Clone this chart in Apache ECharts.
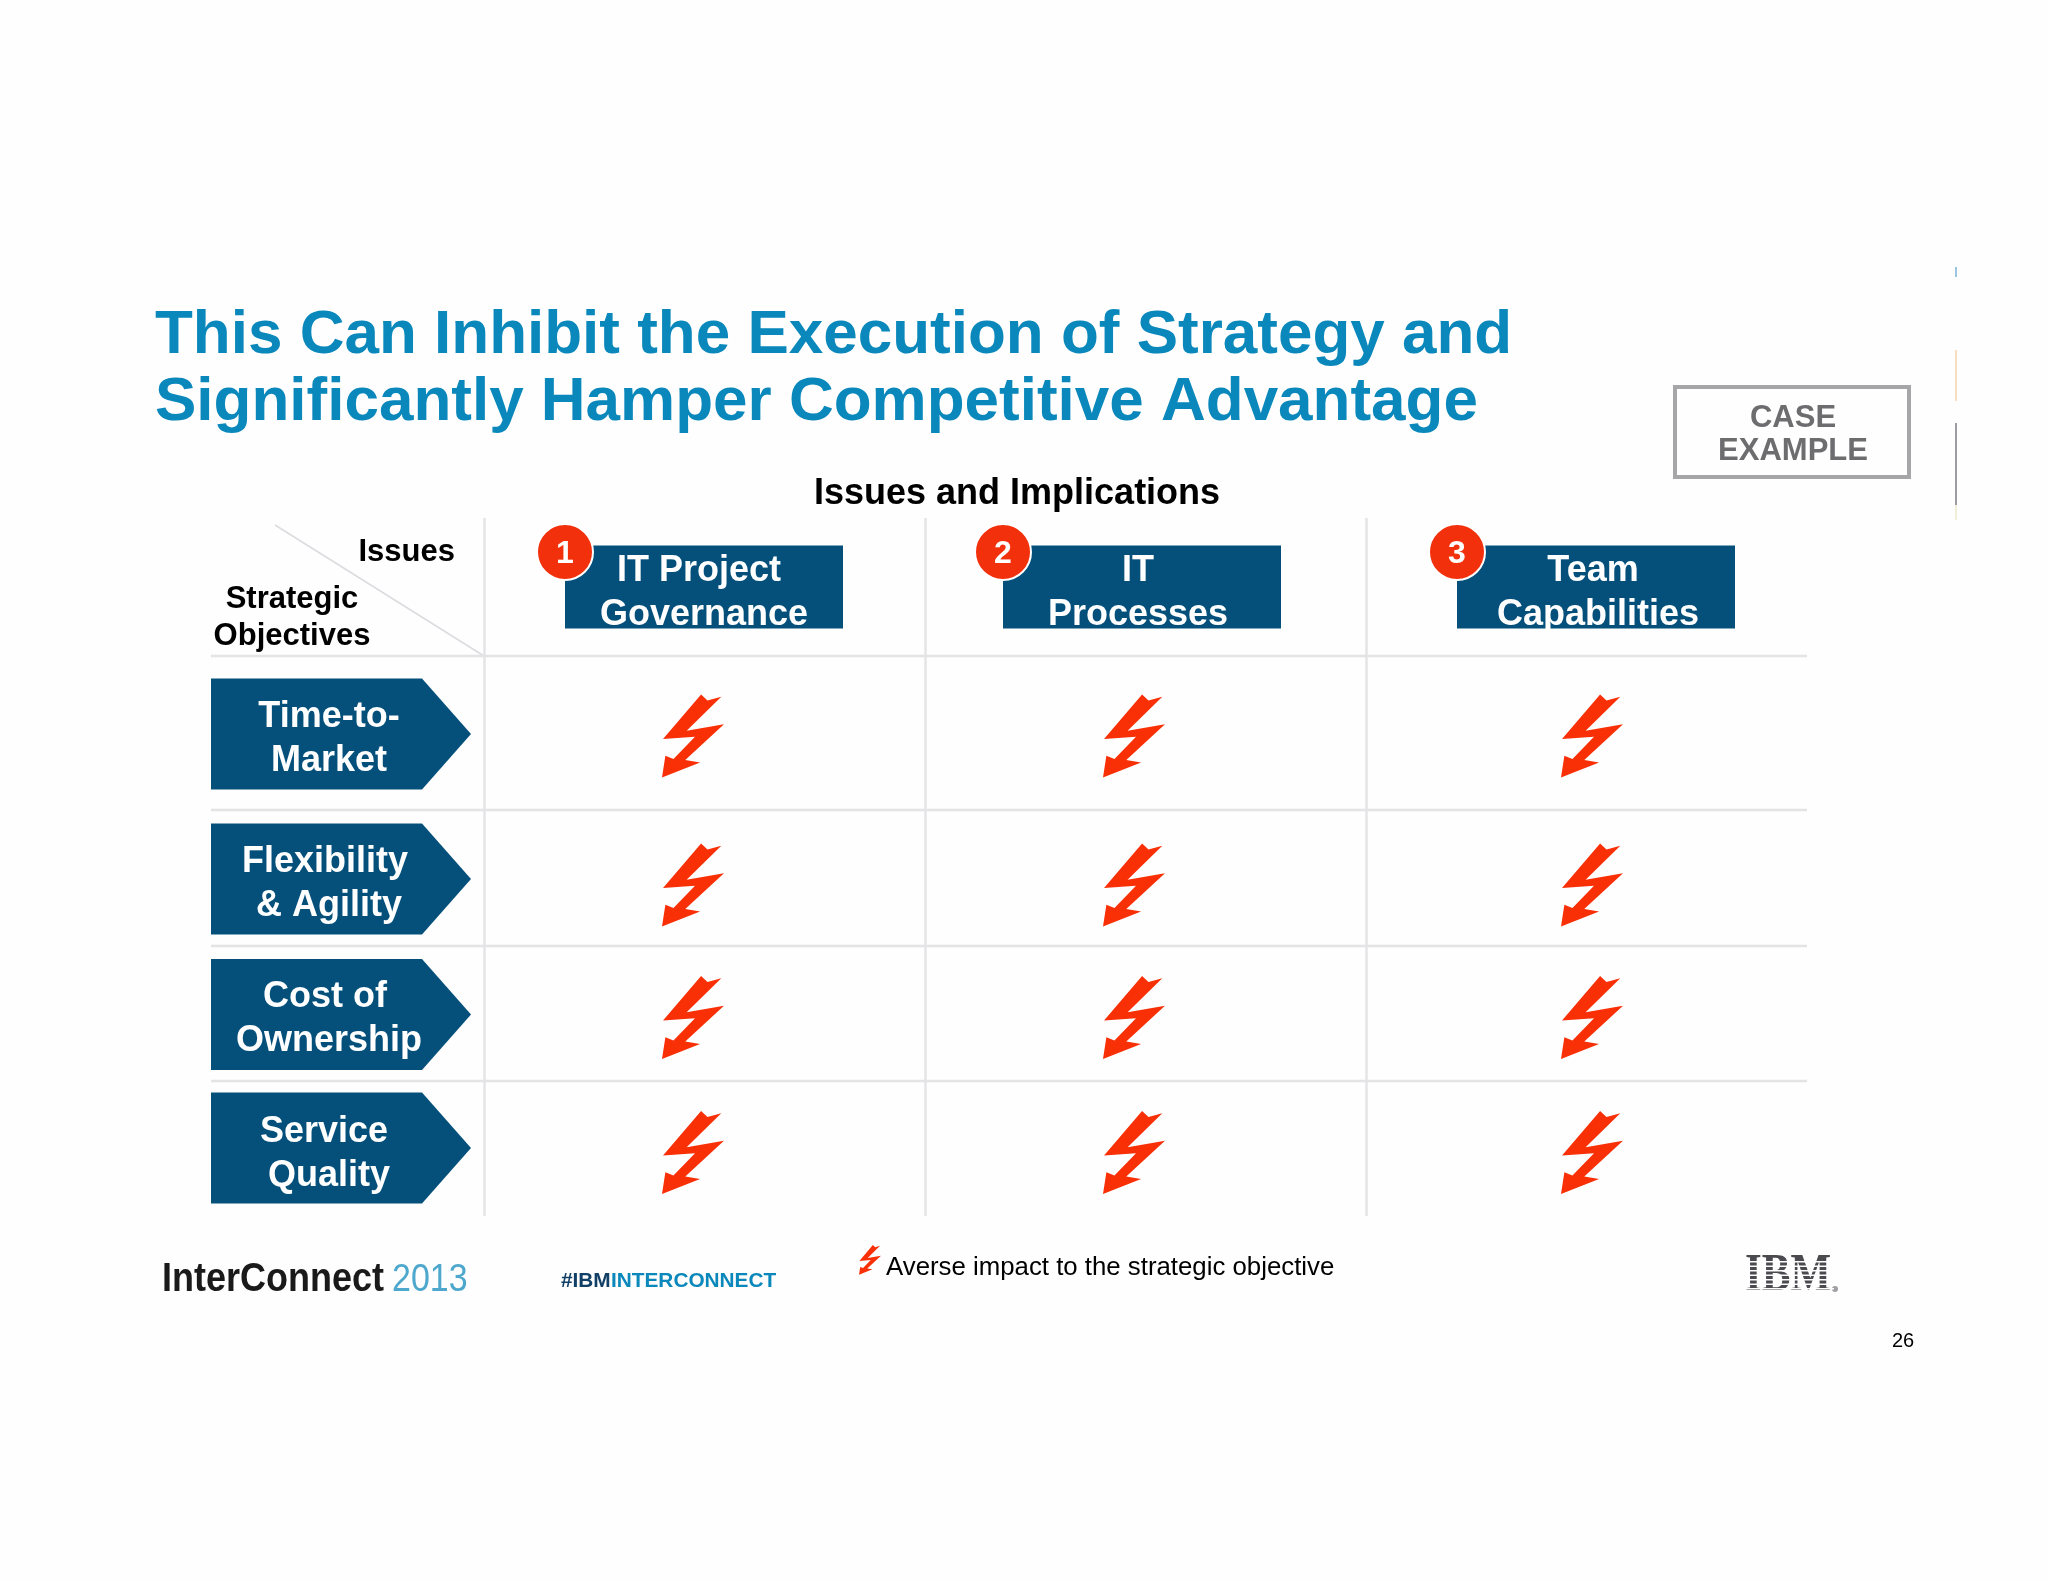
<!DOCTYPE html>
<html>
<head>
<meta charset="utf-8">
<title>Issues and Implications</title>
<style>
  html, body { margin: 0; padding: 0; background: #fefefe; }
  #chart { width: 2048px; height: 1582px; }
</style>
<script src="https://cdn.jsdelivr.net/npm/echarts@6/dist/echarts.min.js"></script>
</head>
<body>
<div id="chart"></div>
<script>
const issues = ['IT Project\nGovernance', 'IT\nProcesses', 'Team\nCapabilities'];
const objectives = ['Time-to-\nMarket', 'Flexibility\n& Agility', 'Cost of\nOwnership', 'Service\nQuality'];
// 1 = averse impact, one row per objective, one column per issue
const impacts = [
    [1, 1, 1],
    [1, 1, 1],
    [1, 1, 1],
    [1, 1, 1]
];
const legendName = 'Averse impact to the strategic objective';

// row edges on the y axis, the slide's rows are not all the same height
const rowEdges = [138, 292, 428, 563, 698];
const rowMid = i => (rowEdges[i] + rowEdges[i + 1]) / 2;
const headerMid = rowEdges[0] / 2;

const SANS = '"Liberation Sans", Arial, sans-serif';
const BLUE = '#04507b';
const RED = '#f92f06';
const RULE = '#e4e4e6';
const BOLT_OUTLINE = 'M183 44L202 62L243 51L140 152L251 133L136 240L180 247L67 292L77 227L101 237L165 170L70 177Z';
const BOLT = 'path://' + BOLT_OUTLINE;
// the legend bolt sits above its text, the empty tail pushes it up inside the icon box
const LEGEND_BOLT = 'path://' + BOLT_OUTLINE + 'M159 431L159 431Z';

// marks and text sit a little off the cell centres on the slide
const boltShiftX = [-12, -12, 5];
const boltShiftY = [3, 7, 4, 4];
const headerShiftX = [-1, -4, 9];
const headerLineShift = [[-5, 0], [-4, -4], [-3, 2]];
const chevronShiftY = [1, 1, 1, -0.5];
const chevronLineShift = [[0, 0], [-4, 0], [-4, 0], [-5, 0]];

const impactData = [];
impacts.forEach((row, r) => {
    row.forEach((v, c) => {
        if (v) {
            impactData.push({
                value: [c, rowMid(r)],
                symbolOffset: [boltShiftX[c], boltShiftY[r]]
            });
        }
    });
});

function label(text, x, y, size) {
    return {
        type: 'text',
        z2: 5,
        style: {
            text: text, x: x, y: y, fill: '#fff',
            fontFamily: SANS, fontWeight: 'bold', fontSize: size,
            textAlign: 'center', textVerticalAlign: 'middle'
        }
    };
}

// two lines of white text, each with its own sideways nudge
function twoLines(text, x, y, shift) {
    return text.split('\n').map((line, i) => label(line, x + shift[i], y + (i ? 22 : -22), 36));
}

function renderRule(params, api) {
    const y = api.coord([0, api.value(1)])[1];
    return {
        type: 'line',
        shape: { x1: 211, y1: y, x2: 1807, y2: y },
        style: { stroke: RULE, lineWidth: 2.5 }
    };
}

function renderChevron(params, api) {
    const i = params.dataIndex;
    const mid = api.coord([0, api.value(1)])[1];
    const y = mid + chevronShiftY[i];
    return {
        type: 'group',
        children: [
            {
                type: 'polygon',
                shape: { points: [[211, y - 55.5], [422, y - 55.5], [471, y], [422, y + 55.5], [211, y + 55.5]] },
                style: { fill: BLUE }
            }
        ].concat(twoLines(objectives[i], 329, mid + 6, chevronLineShift[i]))
    };
}

function renderHeader(params, api) {
    const i = params.dataIndex;
    const pt = api.coord([api.value(0), api.value(1)]);
    const cx = pt[0] + headerShiftX[i];
    const cy = pt[1];
    const left = cx - 139;
    return {
        type: 'group',
        children: [
            { type: 'rect', shape: { x: left, y: cy - 41.5, width: 278, height: 83 }, style: { fill: BLUE } }
        ].concat(twoLines(issues[i], cx, cy + 6, headerLineShift[i]), [
            {
                type: 'circle',
                z2: 6,
                shape: { cx: left, cy: cy - 35, r: 28 },
                style: { fill: '#f2300c', stroke: '#fff', lineWidth: 2 }
            },
            Object.assign(label(String(i + 1), left, cy - 33, 32), { z2: 7 })
        ])
    };
}

function plainText(text, x, y, size, color, weight, align) {
    return {
        type: 'text',
        style: {
            text: text, x: x, y: y, fill: color,
            fontFamily: SANS, fontWeight: weight || 'normal', fontSize: size,
            textAlign: align || 'left', textVerticalAlign: 'middle'
        }
    };
}

// footer logo words are narrower and taller than the plain font
function tallText(text, x, y, size, color, weight) {
    return {
        type: 'text',
        scaleY: 1.12,
        originX: x,
        originY: y,
        style: {
            text: text, x: x, y: y, fill: color,
            fontFamily: SANS, fontWeight: weight, fontSize: size,
            textAlign: 'left', textVerticalAlign: 'middle'
        }
    };
}

const chart = echarts.init(document.getElementById('chart'));
chart.setOption({
    animation: false,
    backgroundColor: '#fefefe',
    title: [
        {
            text: 'This Can Inhibit the Execution of Strategy and\nSignificantly Hamper Competitive Advantage',
            left: 150, top: 297,
            textStyle: { color: '#0a88bb', fontFamily: SANS, fontWeight: 'bold', fontSize: 62, lineHeight: 67 }
        },
        {
            text: 'Issues and Implications',
            left: 809, top: 471,
            textStyle: { color: '#000', fontFamily: SANS, fontWeight: 'bold', fontSize: 36, lineHeight: 36 }
        }
    ],
    legend: {
        left: 854, top: 1240,
        itemWidth: 22, itemHeight: 46.8, itemGap: 9,
        data: [{ name: legendName, icon: LEGEND_BOLT, itemStyle: { color: RED } }],
        textStyle: { color: '#000', fontFamily: SANS, fontSize: 25.8 }
    },
    grid: { left: 484.5, top: 518, width: 1323, height: 698 },
    xAxis: {
        type: 'category',
        data: issues,
        position: 'top',
        axisLine: { show: false },
        axisTick: { show: false },
        axisLabel: { show: false },
        splitLine: { show: true, showMaxLine: false, lineStyle: { color: RULE, width: 2.5 } }
    },
    yAxis: {
        type: 'value',
        inverse: true,
        min: 0,
        max: 698,
        axisLine: { show: false },
        axisTick: { show: false },
        axisLabel: { show: false },
        splitLine: { show: false }
    },
    series: [
        {
            name: 'rules',
            type: 'custom',
            renderItem: renderRule,
            encode: { x: 0, y: 1 },
            data: rowEdges.slice(0, 4).map(e => [0, e])
        },
        {
            name: 'objectives',
            type: 'custom',
            renderItem: renderChevron,
            encode: { x: 0, y: 1 },
            data: objectives.map((o, i) => [0, rowMid(i)])
        },
        {
            name: 'issues',
            type: 'custom',
            renderItem: renderHeader,
            encode: { x: 0, y: 1 },
            data: issues.map((o, i) => [i, headerMid])
        },
        {
            name: legendName,
            type: 'scatter',
            symbol: BOLT,
            symbolSize: [62, 83],
            itemStyle: { color: RED, opacity: 1 },
            data: impactData
        }
    ],
    graphic: [
        // corner cell
        { type: 'line', shape: { x1: 275, y1: 525, x2: 484, y2: 656 }, style: { stroke: '#dcdce0', lineWidth: 1.5 } },
        plainText('Issues', 455, 552, 31, '#000', 'bold', 'right'),
        plainText('Strategic', 292, 599, 31, '#000', 'bold', 'center'),
        plainText('Objectives', 292, 636, 31, '#000', 'bold', 'center'),
        // case example stamp
        { type: 'rect', shape: { x: 1675, y: 387, width: 234, height: 90 }, style: { fill: 'none', stroke: '#a6a6a9', lineWidth: 4 } },
        plainText('CASE', 1793, 418, 31, '#6d6d70', 'bold', 'center'),
        plainText('EXAMPLE', 1793, 451, 31, '#6d6d70', 'bold', 'center'),
        // sliver of the next slide at the right edge
        { type: 'line', shape: { x1: 1956, y1: 267, x2: 1956, y2: 277 }, style: { stroke: '#3a8fc0', lineWidth: 1 } },
        { type: 'line', shape: { x1: 1956, y1: 350, x2: 1956, y2: 401 }, style: { stroke: '#f0c080', lineWidth: 1 } },
        { type: 'line', shape: { x1: 1956, y1: 423, x2: 1956, y2: 505 }, style: { stroke: '#3a3f4a', lineWidth: 1 } },
        { type: 'line', shape: { x1: 1956, y1: 505, x2: 1956, y2: 520 }, style: { stroke: '#e5dfb0', lineWidth: 1 } },
        // footer
        tallText('InterConnect', 162, 1280, 36, '#1a1a1a', 'bold'),
        tallText('2013', 392, 1280, 34, '#4ea7cc', 'normal'),
        plainText('#IBM', 561, 1281, 20.8, '#123f66', 'bold'),
        plainText('INTERCONNECT', 611, 1281, 20.8, '#0a88bb', 'bold'),
        {
            type: 'text',
            scaleY: 1.24,
            originX: 1745,
            originY: 1303,
            style: {
                text: 'IBM', x: 1745, y: 1303, fill: '#4a4a4f',
                fontFamily: '"Liberation Serif", serif', fontWeight: 'bold', fontSize: 43,
                textAlign: 'left', textVerticalAlign: 'bottom'
            }
        },
        { type: 'group', children: [0, 1, 2, 3, 4, 5, 6].map(i => ({
            type: 'rect',
            z: 10,
            shape: { x: 1742, y: 1261 + i * 4.5, width: 92, height: 1.6 },
            style: { fill: '#fefefe' }
        })) },
        { type: 'circle', shape: { cx: 1835, cy: 1289, r: 3 }, style: { fill: '#a0a0a4' } },
        plainText('26', 1892, 1341, 20, '#000')
    ]
});
</script>
</body>
</html>
